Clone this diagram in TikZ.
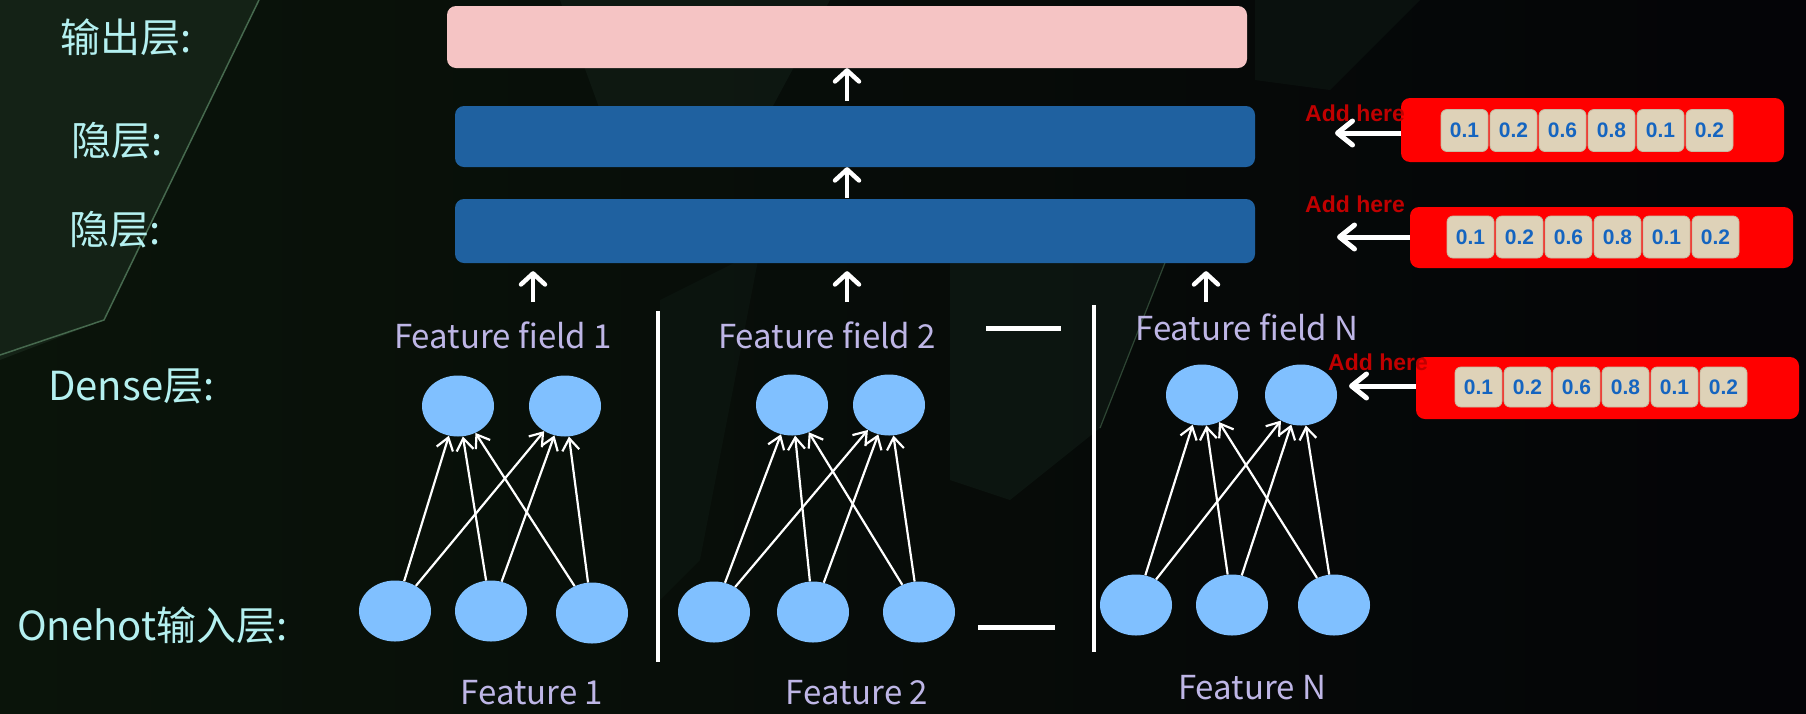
\documentclass[tikz,border=0pt]{standalone}
\usepackage{fontspec}
\setmainfont{Liberation Sans}
\newfontfamily\cjkfont{Noto Sans CJK SC}
\usetikzlibrary{arrows.meta,shapes.geometric,calc}
\definecolor{bgleft}{RGB}{10,20,10}
\definecolor{bgright}{RGB}{4,4,7}
\definecolor{facetA}{RGB}{20,34,22}
\definecolor{facetB}{RGB}{20,34,26}
\definecolor{facetedge}{RGB}{70,105,78}
\definecolor{labelcyan}{RGB}{180,240,240}
\definecolor{featlav}{RGB}{190,182,230}
\definecolor{pinkbox}{RGB}{245,196,196}
\definecolor{hidblue}{RGB}{31,97,160}
\definecolor{nodeblue}{RGB}{128,192,255}
\definecolor{addred}{RGB}{192,0,0}
\definecolor{boxred}{RGB}{255,0,0}
\definecolor{tilebeige}{RGB}{222,210,184}
\definecolor{tileedge}{RGB}{200,186,160}
\definecolor{numblue}{RGB}{21,101,192}
\begin{document}
\begin{tikzpicture}[x=1pt,y=-1pt,
  layerlabel/.style={anchor=west,text=labelcyan,inner sep=0pt,font=\cjkfont\fontsize{40}{48}\selectfont},
  featlabel/.style={text=featlav,inner sep=0pt,font=\cjkfont\fontsize{33}{40}\selectfont},
  bar/.style={rounded corners=9pt,inner sep=0pt,minimum width=800pt},
  neuron/.style={ellipse,fill=nodeblue,inner sep=0pt,minimum width=72pt,minimum height=61pt},
  edgearr/.style={draw=white,line width=2.2pt,-{Straight Barb[length=12pt,width=17pt]}},
  bigarr/.style={draw=white,line width=4.5pt,-{Straight Barb[length=11pt,width=24pt,round]}},
  addarr/.style={draw=white,line width=5pt,-{Straight Barb[length=15pt,width=24pt,round]}},
  sep/.style={draw=white,line width=4pt},
  redbox/.style={fill=boxred,rounded corners=9pt,inner sep=0pt,minimum width=383pt},
  tile/.style={fill=tilebeige,draw=tileedge,line width=0.8pt,rounded corners=6pt,inner sep=0pt,
    minimum width=47pt,minimum height=42pt,text=numblue,font=\bfseries\fontsize{21}{24}\selectfont},
  addtext/.style={text=addred,inner sep=0pt,font=\bfseries\fontsize{23}{27}\selectfont}
]
\useasboundingbox (0,0) rectangle (1806,713);
% background
\shade[left color=bgleft,right color=bgright] (0,0) rectangle (1806,713);
\fill[facetA] (0,0) -- (259,0) -- (104,320) -- (0,360) -- cycle;
\draw[facetedge,line width=1.5pt] (259,0) -- (104,320) -- (0,355);
\fill[facetB,opacity=0.5] (560,0) -- (830,0) -- (760,130) -- (600,110) -- cycle;
\fill[facetB,opacity=0.45] (950,250) -- (1170,250) -- (1100,428) -- (1010,500) -- (950,480) -- cycle;
\draw[facetedge,opacity=0.6,line width=1.2pt] (1170,250) -- (1100,428);
\fill[facetB,opacity=0.3] (660,300) -- (760,250) -- (700,560) -- (660,600) -- cycle;
\fill[facetB,opacity=0.35] (1255,0) -- (1420,0) -- (1330,90) -- (1255,80) -- cycle;

% layer labels
\node[layerlabel] (lout) at (60,37) {输出层:};
\node[layerlabel] (lh2) at (71,141) {隐层:};
\node[layerlabel] (lh1) at (69,230) {隐层:};
\node[layerlabel] (ldense) at (48,386) {Dense层:};
\node[layerlabel] (lin) at (17,625) {Onehot输入层:};

% bars
\node[bar,fill=pinkbox,minimum height=62pt] (pink) at (847,37) {};
\node[bar,fill=hidblue,minimum height=61pt] (h2) at (855,136.5) {};
\node[bar,fill=hidblue,minimum height=64pt] (h1) at (855,231) {};

\draw[bigarr,shorten <=5pt] (h2.north -| pink.south) -- (pink.south);
\draw[bigarr,shorten <=1pt] (h1.north -| pink.south) -- (h2.south -| pink.south);
\coordinate (fa1) at (533,302);
\coordinate (fa2) at (847,302);
\coordinate (fa3) at (1206,302);
\draw[bigarr,shorten >=8pt] (fa1) -- (h1.south -| fa1);
\draw[bigarr,shorten >=8pt] (fa2) -- (h1.south -| fa2);
\draw[bigarr,shorten >=8pt] (fa3) -- (h1.south -| fa3);

% feature field labels
\node[featlabel] (ff1) at (503,335) {Feature field 1};
\node[featlabel] (ff2) at (827,335) {Feature field 2};
\node[featlabel] (ffN) at (1247,327) {Feature field N};
\node[featlabel] (f1) at (532,693) {Feature 1};
\node[featlabel] (f2) at (857,693) {Feature 2};
\node[featlabel] (fN) at (1252,688) {Feature N};

% separators
\coordinate (s1a) at (658,311); \coordinate (s1b) at (658,662);
\coordinate (s2a) at (1094,305); \coordinate (s2b) at (1094,652);
\draw[sep] (s1a) -- (s1b);
\draw[sep] (s2a) -- (s2b);
\coordinate (da) at (986,328); \coordinate (db) at (1061,328);
\coordinate (dc) at (978,627); \coordinate (dd) at (1055,627);
\draw[draw=white,line width=5pt] (da) -- (db);
\draw[draw=white,line width=5pt] (dc) -- (dd);

% neurons
\node[neuron] (d11) at (458,406) {};
\node[neuron] (d12) at (565,406) {};
\node[neuron] (i11) at (395,611) {};
\node[neuron] (i12) at (491,611) {};
\node[neuron] (i13) at (592,613) {};
\node[neuron] (d21) at (792,405) {};
\node[neuron] (d22) at (889,405) {};
\node[neuron] (i21) at (714,612) {};
\node[neuron] (i22) at (813,612) {};
\node[neuron] (i23) at (919,612) {};
\node[neuron] (d31) at (1202,395) {};
\node[neuron] (d32) at (1301,395) {};
\node[neuron] (i31) at (1136,605) {};
\node[neuron] (i32) at (1232,605) {};
\node[neuron] (i33) at (1334,605) {};
\foreach \g in {1,2,3}{
  \foreach \i in {1,2,3}{
    \foreach \d in {1,2}{
      \draw[edgearr] (i\g\i) -- (d\g\d);
    }
  }
}

% red boxes with tiles
\node[redbox,minimum height=64pt] (ra) at (1592.5,130) {};
\node[redbox,minimum height=61pt] (rb) at (1601.5,237.5) {};
\node[redbox,minimum height=62pt] (rc) at (1607.5,388) {};
\foreach \v [count=\k from 0] in {0.1,0.2,0.6,0.8,0.1,0.2}{
  \node[tile] (ta\k) at (1464.5+49*\k,130.5) {\v};
  \node[tile] (tb\k) at (1470.5+49*\k,237) {\v};
  \node[tile,minimum height=40pt] (tc\k) at (1478.5+49*\k,387) {\v};
}
\coordinate (ea) at (1335,133);
\coordinate (eb) at (1337,237);
\coordinate (ec) at (1349,386);
\draw[addarr] (ra.west |- ea) -- (ea);
\draw[addarr] (rb.west |- eb) -- (eb);
\draw[addarr] (rc.west |- ec) -- (ec);
\node[addtext] (ta) at (1355,113) {Add here};
\node[addtext] (tb) at (1355,204) {Add here};
\node[addtext] (tc) at (1378,362) {Add here};
\end{tikzpicture}
\end{document}
